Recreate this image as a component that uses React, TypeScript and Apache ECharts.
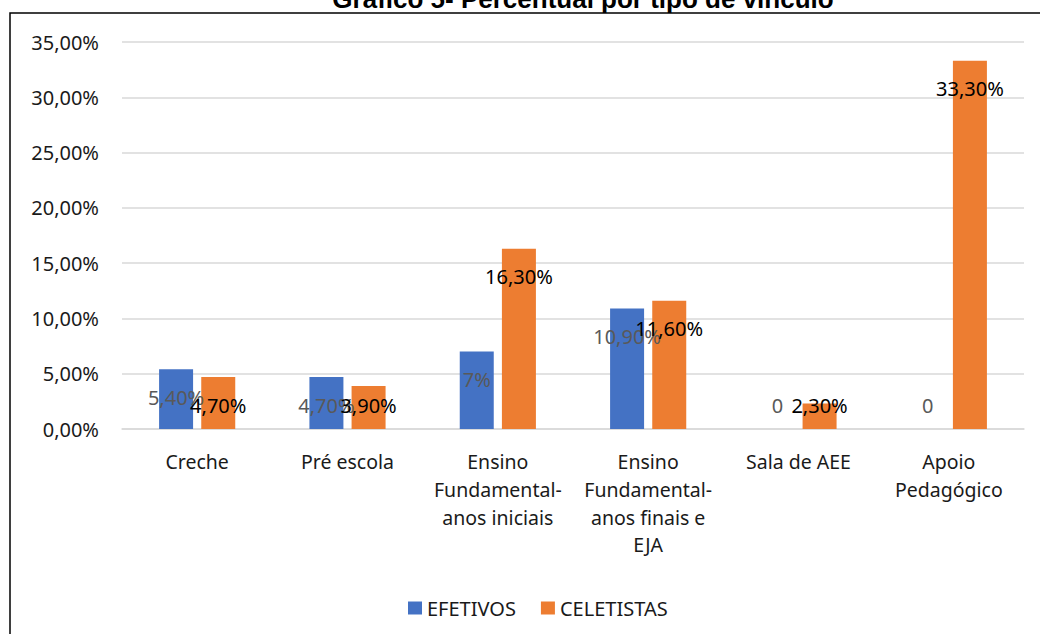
import React, { useEffect, useRef } from "react";
import * as echarts from "echarts";

const categories = [
  "Creche",
  "Pré escola",
  "Ensino\nFundamental-\nanos iniciais",
  "Ensino\nFundamental-\nanos finais e\nEJA",
  "Sala de AEE",
  "Apoio\nPedagógico",
];
const efetivos = [5.4, 4.7, 7, 10.9, 0, 0];
const celetistas = [4.7, 3.9, 16.3, 11.6, 2.3, 33.3];
const efetivosLabels = ["5,40%", "4,70%", "7%", "10,90%", "0", "0"];
const celetistasLabels = ["4,70%", "3,90%", "16,30%", "11,60%", "2,30%", "33,30%"];
const seriesNames = ["EFETIVOS", "CELETISTAS"];
const titleText = "Gráfico 5- Percentual por tipo de vínculo";

const FONT = "'Noto Sans', sans-serif";

function buildData(values: number[], labels: string[], color: string) {
  return values.map((v, i) => {
    const short = v < 5;
    return {
      value: v,
      label: {
        show: true,
        position: short ? "insideBottom" : "insideTop",
        distance: short ? 13 : 17,
        formatter: () => labels[i],
        color,
        fontSize: 20,
        lineHeight: 22,
        fontFamily: FONT,
      },
    };
  });
}

export default function App() {
  const ref = useRef<HTMLDivElement>(null);
  useEffect(() => {
    if (!ref.current) return;
    const chart = echarts.init(ref.current, null, { renderer: "svg" });
    chart.setOption({
      animation: false,
      backgroundColor: "#ffffff",
      textStyle: { fontFamily: FONT },
      grid: { left: 122, right: 16, top: 42, bottom: 205, containLabel: false },
      legend: {
        data: seriesNames,
        left: 403,
        top: 593,
        icon: "rect",
        itemWidth: 14,
        itemHeight: 13,
        itemGap: 25,
        textStyle: { fontSize: 20, color: "#1a1a1a", fontFamily: FONT, lineHeight: 20 },
      },
      xAxis: {
        type: "category",
        data: categories,
        axisTick: { show: false },
        axisLine: { lineStyle: { color: "#d9d9d9", width: 1.5 } },
        axisLabel: {
          margin: 19,
          fontSize: 19.5,
          lineHeight: 27.7,
          color: "#1a1a1a",
          fontFamily: FONT,
          interval: 0,
        },
      },
      yAxis: {
        type: "value",
        min: 0,
        max: 35,
        interval: 5,
        axisLine: { show: false },
        axisTick: { show: false },
        splitLine: { lineStyle: { color: "#d9d9d9", width: 1.5 } },
        axisLabel: {
          margin: 23,
          fontSize: 20,
          color: "#1a1a1a",
          fontFamily: FONT,
          formatter: (v: number) => v.toFixed(2).replace(".", ",") + "%",
        },
      },
      series: [
        {
          name: seriesNames[0],
          type: "bar",
          barWidth: 34,
          barGap: "24%",
          itemStyle: { color: "#4472C4" },
          data: buildData(efetivos, efetivosLabels, "#595959"),
        },
        {
          name: seriesNames[1],
          type: "bar",
          barWidth: 34,
          barGap: "24%",
          itemStyle: { color: "#ED7D31" },
          data: buildData(celetistas, celetistasLabels, "#000000"),
        },
      ],
      graphic: [
        {
          type: "rect",
          shape: { x: 10, y: 13, width: 1100, height: 700 },
          style: { fill: "none", stroke: "#000000", lineWidth: 1.5 },
          silent: true,
        },
        {
          type: "text",
          x: 583,
          y: 12,
          style: {
            text: titleText,
            fontFamily: "'Liberation Sans', Arial, sans-serif",
            fontWeight: "bold",
            fontSize: 26,
            fill: "#000000",
            align: "center",
            verticalAlign: "bottom",
          },
        },
      ],
    });
    return () => chart.dispose();
  }, []);
  return (
    <div
      ref={ref}
      style={{ position: "absolute", left: 0, top: 0, width: 1040, height: 634 }}
    />
  );
}
